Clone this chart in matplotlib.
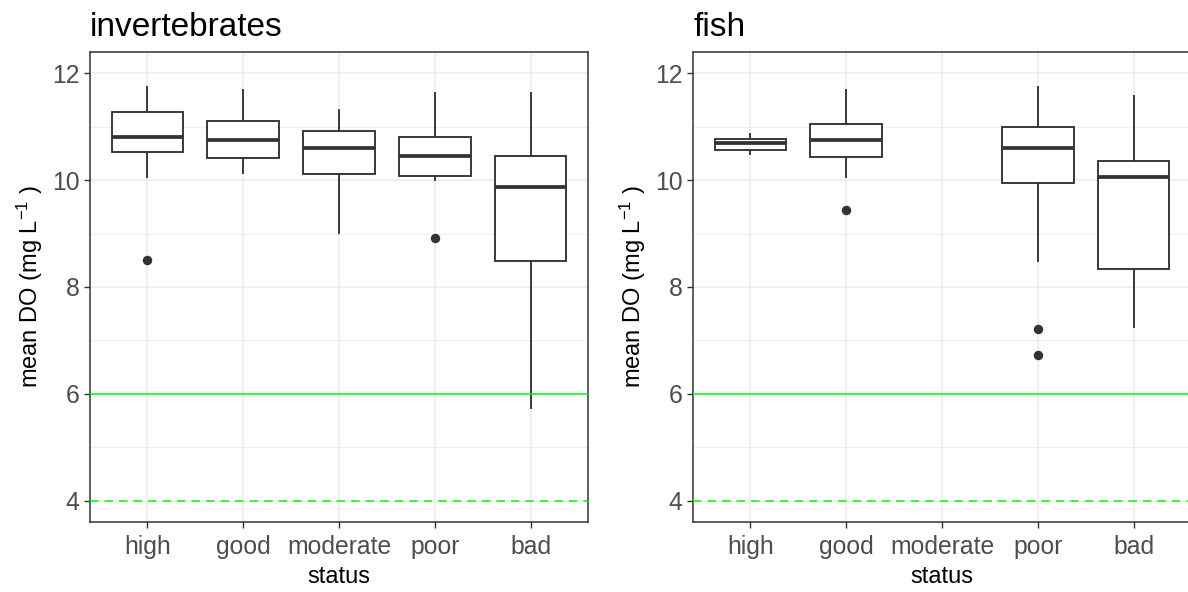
import matplotlib
matplotlib.use("Agg")
import matplotlib.pyplot as plt
from matplotlib.ticker import MultipleLocator

plt.rcParams['font.family'] = ['Liberation Sans', 'DejaVu Sans']
plt.rcParams['mathtext.default'] = 'regular'

status = ['high', 'good', 'moderate', 'poor', 'bad']

# invertebrates box stats
inv_lo = [10.06, 10.14, 9.01, 10.00, 5.74]
inv_q1 = [10.53, 10.42, 10.12, 10.07, 8.48]
inv_med = [10.81, 10.76, 10.61, 10.46, 9.87]
inv_q3 = [11.27, 11.10, 10.92, 10.80, 10.45]
inv_hi = [11.74, 11.69, 11.31, 11.63, 11.63]
inv_out = [[8.51], [], [], [8.91], []]

# fish box stats, no 'moderate' sites
fish_lo = [10.49, 10.06, None, 8.49, 7.26]
fish_q1 = [10.56, 10.44, None, 9.94, 8.33]
fish_med = [10.69, 10.76, None, 10.61, 10.06]
fish_q3 = [10.78, 11.06, None, 11.00, 10.36]
fish_hi = [10.86, 11.69, None, 11.74, 11.57]
fish_out = [[], [9.44], [], [7.21, 6.73], []]

good_do = 6
min_do = 4

W, H = 1188, 592
fig = plt.figure(figsize=(W / 100, H / 100), dpi=100)

dark = '#333333'
grid = '#EBEBEB'


def panel(left, lo, q1, med, q3, hi, out, title):
    ax = fig.add_axes([left / W, 70 / H, 498 / W, 470 / H])
    stats = []
    pos = []
    for i in range(len(status)):
        if med[i] is None:
            continue
        stats.append(dict(whislo=lo[i], q1=q1[i], med=med[i], q3=q3[i],
                          whishi=hi[i], fliers=out[i]))
        pos.append(i + 1)
    ax.bxp(stats, positions=pos, widths=0.75, patch_artist=True,
           boxprops=dict(facecolor='white', edgecolor=dark, linewidth=1.35),
           medianprops=dict(color=dark, linewidth=2.7, solid_capstyle='butt'),
           whiskerprops=dict(color=dark, linewidth=1.35),
           capprops=dict(linewidth=0),
           flierprops=dict(marker='o', markersize=5.8, markerfacecolor=dark,
                           markeredgecolor=dark),
           zorder=2)
    ax.axhline(good_do, color='#00FF00', lw=1.1, zorder=3)
    ax.axhline(min_do, color='#00FF00', lw=1.1, dashes=(5.5, 4), zorder=3)

    ax.set_xlim(0.4, 5.6)
    ax.set_ylim(3.6, 12.4)
    ax.set_xticks(range(1, 6))
    ax.set_xticklabels(status)
    ax.yaxis.set_major_locator(MultipleLocator(2))
    ax.yaxis.set_minor_locator(MultipleLocator(1))
    ax.tick_params(axis='y', which='minor', length=0)
    ax.tick_params(which='major', length=4.5, width=1.0, color=dark,
                   labelsize=17.8, labelcolor='#4D4D4D', pad=3)
    ax.tick_params(axis='x', pad=5)
    ax.grid(which='major', color=grid, lw=1.1, zorder=0)
    ax.grid(which='minor', axis='y', color=grid, lw=0.6, zorder=0)
    ax.set_axisbelow(True)
    for s in ax.spines.values():
        s.set_color(dark)
        s.set_linewidth(1.1)

    ax.set_xlabel('status', fontsize=17)
    ax.set_ylabel('mean DO (mg L$^{-1}$ )', fontsize=17)
    ax.xaxis.set_label_coords(0.5, -0.117)
    ax.xaxis.label.set_va('center')
    ax.yaxis.set_label_coords(-0.09, 0.5)
    ax.set_title(title, loc='left', fontsize=24, pad=11.5)
    return ax


panel(90, inv_lo, inv_q1, inv_med, inv_q3, inv_hi, inv_out, 'invertebrates')
panel(693, fish_lo, fish_q1, fish_med, fish_q3, fish_hi, fish_out, 'fish')

fig.savefig('out.png', dpi=100)
